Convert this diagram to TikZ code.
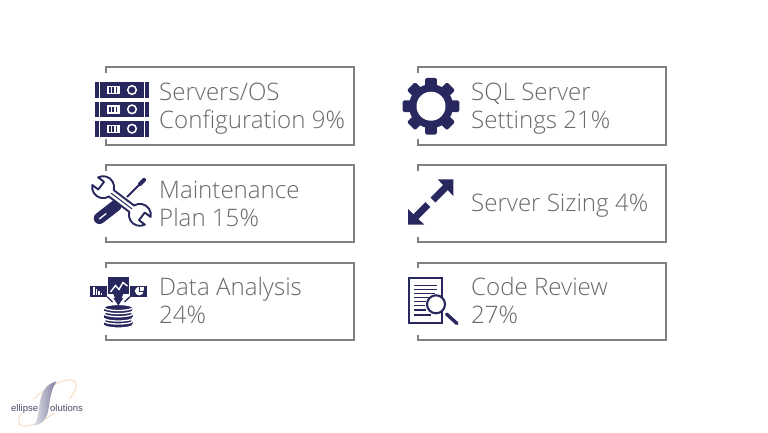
\documentclass[tikz,border=0pt]{standalone}
\usepackage{fontspec}
\setmainfont{Open Sans Light}
\newfontfamily\logofont{Liberation Sans}
\definecolor{ink}{HTML}{28285F}
\definecolor{rulegray}{HTML}{808080}
\definecolor{txtgray}{HTML}{68696D}
\definecolor{logoink}{HTML}{4A4A68}
\definecolor{peach}{HTML}{F6D9BE}
\tikzset{
 x=1pt,y=-1pt,
 box/.style={draw=rulegray,line width=1.15pt},
 lab/.style={anchor=west,inner sep=0pt,text=txtgray,align=left,font=\fontsize{24.1}{28}\selectfont},
 logotext/.style={inner sep=0pt,anchor=base west,text=logoink,font=\logofont\fontsize{9.5}{10}\selectfont},
 disc/.style={fill=ink,draw=white,line width=1.3pt},
}
\begin{document}
\begin{tikzpicture}
\useasboundingbox (0,0) rectangle (768,432);
\fill[white] (0,0) rectangle (768,432);
% boxes
\foreach \X/\R in {106/354,418/666}{
 \draw[box] (\X,73)--(\X,67)--(\R,67)--(\R,145)--(\X,145)--(\X,139);
 \draw[box] (\X,170.5)--(\X,165)--(\R,165)--(\R,242)--(\X,242)--(\X,237);
 \draw[box] (\X,268)--(\X,263)--(\R,263)--(\R,340)--(\X,340)--(\X,334.5);
}
% labels
\node[lab] (servers) at (159,108.5) {Servers/OS\\Configuration 9\%};
\node[lab] (sql) at (471,108.5) {SQL Server\\Settings 21\%};
\node[lab] (maint) at (159,203.5) {Maintenance\\Plan 15\%};
\node[lab] (sizing) at (471,206) {Server Sizing 4\%};
\node[lab] (data) at (159,300.3) {Data Analysis\\24\%};
\node[lab] (code) at (471,300.3) {Code Review\\27\%};
% server icon
\foreach \Y in {82.3,101.6,121}{
 \fill[ink] (95,\Y) rectangle (98.5,\Y+15.5);
 \fill[ink] (100,\Y) rectangle (143.5,\Y+15.5);
 \fill[ink] (145,\Y) rectangle (148.5,\Y+15.5);
 \fill[white] (107,\Y+3.6) rectangle (119.5,\Y+12);
 \fill[ink] (109.3,\Y+5) rectangle (111.2,\Y+10.6);
 \fill[ink] (112.4,\Y+5) rectangle (114.3,\Y+10.6);
 \fill[ink] (115.5,\Y+5) rectangle (117.4,\Y+10.6);
 \draw[white,line width=1.5pt] (132,\Y+7.7) circle[radius=4.3pt];
}
% gear icon
\begin{scope}[shift={(431,106.2)}]
 \foreach \A in {0,45,...,315}{
  \begin{scope}[rotate=\A]
   \fill[ink,rounded corners=1.5pt] (18,-5.8) rectangle (28.3,5.8);
  \end{scope}
 }
 \fill[ink] (0,0) circle[radius=22pt];
 \fill[white] (0,0) circle[radius=14.5pt];
\end{scope}
% resize arrows
\fill[ink] (437.7,179.3)--(453.3,179.3)--(453.3,196)--cycle;
\draw[ink,line width=7pt] (447,186)--(433,200);
\fill[ink] (408,209)--(408,224.7)--(424.3,224.7)--cycle;
\draw[ink,line width=7pt] (414.5,218)--(428,204.5);
% screwdriver
\draw[ink,line width=11.5pt,line cap=round] (99.5,218.3)--(116,205.5);
\draw[white,line width=1.3pt,line cap=round] (99.5,218.8)--(106,213.7);
\draw[ink,line width=1.9pt] (127,197)--(140,184);
\draw[ink,line width=4.2pt,line cap=round] (140,184)--(144,180);
% wrench
\begin{scope}[shift={(121.5,201)},rotate=-37,x=1pt,y=1pt]
 \draw[ink,line width=1.9pt,fill=white,line join=round]
  (-12.75,4) arc[start angle=21.3,end angle=154.1,radius=11pt]
  -- (-25.5,4.8) -- (-25.5,-4.8) -- (-32.9,-4.8)
  arc[start angle=205.9,end angle=338.7,radius=11pt]
  -- (12.75,-4) arc[start angle=201.3,end angle=334.1,radius=11pt]
  -- (25.5,-4.8) -- (25.5,4.8) -- (32.9,4.8)
  arc[start angle=25.9,end angle=158.7,radius=11pt] -- cycle;
 \draw[ink,line width=1pt] (-13,0)--(13,0);
\end{scope}
% data analysis icon
\fill[ink] (90,285.7) rectangle (107.3,296.7);
\fill[ink] (130,285.7) rectangle (147.3,296.7);
\fill[ink] (108.3,277.3) rectangle (129.3,294.3);
\fill[ink] (113.3,294)--(123.3,294)--(118.3,305.5)--cycle;
\draw[ink,line width=1.3pt] (107.3,296.7)--(112.5,302);
\draw[ink,line width=1.3pt] (130,296.7)--(124.5,302);
\draw[white,line width=1.4pt] (110.5,292)--(115.5,285.5)--(119,289.5)--(123,282.5)--(127.5,286);
\foreach \BX/\BH in {93/8,95.5/6,98/4,100.5/2.5}{
 \fill[white] (\BX,295) rectangle (\BX+1.6,295-\BH);
}
\fill[white] (139.3,291) circle[radius=4.4pt];
\draw[ink,line width=0.8pt] (139.3,291)--(139.3,286.5);
\draw[ink,line width=0.8pt] (139.3,291)--(143.8,291);
\fill[white] (140.4,289.8) rectangle (143.6,286.6);
% database
\foreach \TY/\BY in {321/325,313.7/318,307.5/310.6}{
 \fill[ink] (104,\TY) rectangle (132.7,\BY);
 \draw[disc] (118.35,\BY) ellipse[x radius=14.4pt,y radius=3pt];
 \fill[ink] (104.3,\TY) rectangle (132.4,\BY);
 \draw[disc] (118.35,\TY) ellipse[x radius=14.4pt,y radius=3pt];
}
\fill[ink] (113.3,298)--(123.3,298)--(118.3,305.5)--cycle;
% document icon
\draw[ink,line width=1.7pt,fill=white] (409,278.3) rectangle (441.7,323.3);
\foreach \LY/\LE in {285.7/437,289.6/437,293.5/435,297.4/431,301.7/426,305.7/425,310/426,315/431}{
 \draw[ink,line width=1.5pt] (414,\LY)--(\LE,\LY);
}
\draw[ink,line width=2.1pt,fill=white] (436,304.3) circle[radius=9pt];
\draw[ink,line width=3.4pt,line cap=round] (446.5,314)--(457,323.5);
% logo
\draw[peach,line width=0.9pt,rotate around={37:(47.5,403)}] (47.5,403) ellipse[x radius=35pt,y radius=12pt];
\fill[white] (9,399) rectangle (41,413);
\fill[white] (49,399) rectangle (84,413);
\shade[left color=ink!15,right color=ink!60,draw=none]
 (56.5,381.5) .. controls (51,389) and (50,400) .. (48,412) .. controls (46,420) and (41,425) .. (34,425.5)
 .. controls (38,420) and (38,414) .. (39,407) .. controls (41,393) and (45,384) .. (56.5,381.5) -- cycle;
\node[logotext] (logoa) at (11,411.5) {ellipse};
\node[logotext] (logob) at (50,411.5) {olutions};
\end{tikzpicture}
\end{document}
